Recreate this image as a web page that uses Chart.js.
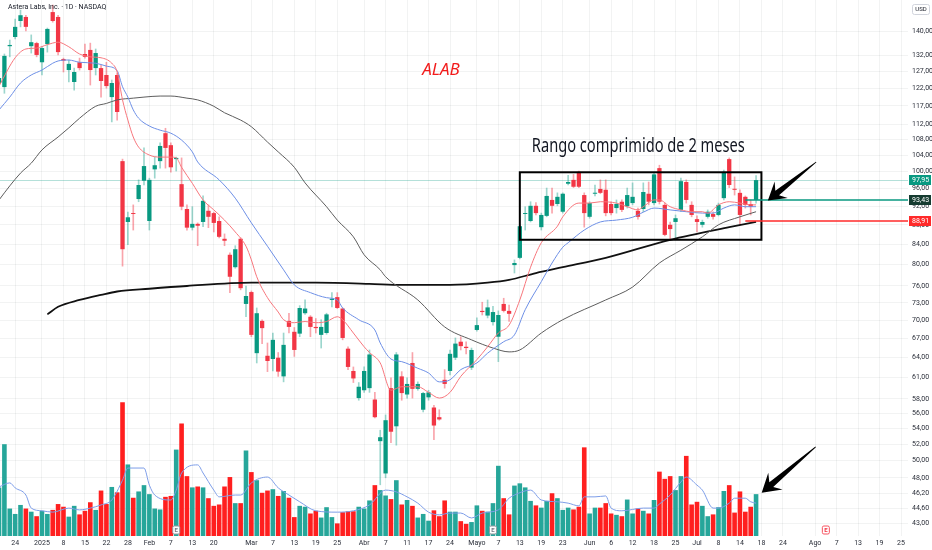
<!DOCTYPE html>
<html>
<head>
<meta charset="utf-8">
<script src="https://cdn.jsdelivr.net/npm/chart.js@4.4.1/dist/chart.umd.min.js"></script>
<style>
  html, body { margin: 0; padding: 0; background: #fff; }
  canvas { display: block; }
</style>
</head>
<body>
<canvas id="chart" width="932" height="550"></canvas>
<script>
// trading sessions shown on the axis (past + the empty days ahead)
const tradingDays = [
    ['2024-12', [19, 20, 23, 24, 26, 27, 30, 31]],
    ['2025-01', [2, 3, 6, 7, 8, 10, 13, 14, 15, 16, 17, 21, 22, 23, 24, 27, 28, 29, 30, 31]],
    ['2025-02', [3, 4, 5, 6, 7, 10, 11, 12, 13, 14, 18, 19, 20, 21, 24, 25, 26, 27, 28]],
    ['2025-03', [3, 4, 5, 6, 7, 10, 11, 12, 13, 14, 17, 18, 19, 20, 21, 24, 25, 26, 27, 28, 31]],
    ['2025-04', [1, 2, 3, 4, 7, 8, 9, 10, 11, 14, 15, 16, 17, 21, 22, 23, 24, 25, 28, 29, 30]],
    ['2025-05', [1, 2, 5, 6, 7, 8, 9, 12, 13, 14, 15, 16, 19, 20, 21, 22, 23, 27, 28, 29, 30]],
    ['2025-06', [2, 3, 4, 5, 6, 9, 10, 11, 12, 13, 16, 17, 18, 20, 23, 24, 25, 26, 27, 30]],
    ['2025-07', [1, 2, 3, 7, 8, 9, 10, 11, 14, 15, 16, 17, 18, 21, 22, 23, 24, 25, 28, 29, 30, 31]],
    ['2025-08', [1, 4, 5, 6, 7, 8, 11, 12, 13, 14, 15, 18, 19, 20, 21, 22, 25, 26, 27, 28, 29]]
]

const open = [
    123.6, 122.4, 135.0, 138.0, 143.4, 144.8, 135.0, 136.0,
    129.9, 135.7, 146.5, 144.8, 130.9, 127.5, 123.9, 129.9, 132.5, 133.8, 128.1, 128.1, 126.0, 119.5, 126.0, 102.5, 88.6, 90.5, 93.6, 97.8,
    88.8, 100.5, 102.5, 109.6, 106.5, 103.0, 97.0, 91.4, 87.4, 88.2, 88.6, 91.0, 90.5, 88.8, 85.1, 81.9, 79.5, 85.1, 72.8,
    74.9, 64.7, 69.9, 64.3, 63.8, 64.0, 61.2, 69.9, 68.1, 67.8, 71.2, 70.6, 68.9, 67.6, 67.9, 73.5, 74.0, 72.0, 65.4, 62.0, 58.1,
    59.2, 59.5, 57.9, 52.4, 48.5, 59.5, 54.3, 61.2, 58.6, 63.2, 59.4, 56.5, 58.2, 56.8, 55.5, 60.7, 62.0, 64.0, 66.5, 65.7, 62.5,
    68.4, 71.6, 70.8, 69.7, 67.3, 72.8, 71.6, 79.9, 81.3, 90.3, 88.8, 92.1, 87.5, 89.9, 93.4, 92.5, 90.8, 97.1, 98.0, 99.9, 94.5,
    89.7, 94.8, 95.9, 95.7, 92.5, 91.6, 93.0, 92.0, 92.7, 91.0, 91.4, 94.8, 92.7, 100.8, 92.3, 88.0, 88.6, 91.2, 97.5, 92.3,
    89.2, 88.0, 89.7, 90.3, 90.1, 93.8, 103.0, 95.9, 95.0, 94.1, 92.5, 93.4
]
const high = [
    126.0, 132.5, 137.0, 144.1, 147.2, 145.4, 138.7, 136.3,
    134.8, 141.0, 149.0, 145.4, 131.2, 130.6, 128.1, 131.2, 135.7, 136.0, 134.1, 129.0, 129.9, 124.5, 126.6, 103.0, 90.7, 92.3, 98.0, 105.8,
    98.4, 103.5, 107.1, 110.9, 107.1, 103.5, 103.3, 92.3, 91.9, 88.4, 94.3, 92.3, 90.7, 89.7, 86.1, 82.3, 83.7, 85.3, 76.0,
    75.1, 72.1, 70.1, 66.3, 67.9, 64.8, 67.9, 71.2, 68.8, 72.5, 73.5, 70.8, 70.3, 70.1, 71.2, 74.8, 74.8, 72.1, 65.7, 62.6, 60.3,
    62.6, 65.2, 58.9, 53.8, 55.8, 61.0, 64.8, 61.9, 61.0, 64.8, 60.4, 58.9, 59.2, 57.1, 56.5, 62.2, 65.2, 67.1, 67.3, 66.5, 65.5,
    70.4, 73.1, 73.5, 72.4, 71.6, 73.8, 72.6, 80.9, 88.0, 91.9, 93.0, 92.8, 90.5, 96.1, 96.1, 95.0, 95.0, 99.1, 99.3, 100.1, 95.0,
    93.0, 96.8, 98.0, 98.0, 93.0, 93.4, 93.4, 96.1, 97.3, 91.6, 97.3, 97.5, 99.6, 101.5, 92.7, 88.6, 90.1, 98.4, 98.0, 93.0,
    89.9, 89.0, 91.2, 90.8, 92.7, 100.3, 103.3, 98.7, 95.7, 94.3, 93.4, 99.0
]
const low = [
    122.7, 120.6, 131.6, 137.4, 141.4, 140.0, 132.8, 131.6,
    126.0, 133.1, 143.0, 132.2, 126.9, 123.9, 121.5, 127.5, 131.2, 123.0, 126.0, 119.5, 122.1, 112.6, 113.1, 79.7, 83.9, 86.9, 93.0, 96.8,
    86.9, 98.4, 100.8, 100.8, 99.8, 100.1, 91.2, 86.9, 86.9, 83.7, 87.6, 87.4, 86.5, 85.3, 83.7, 74.8, 79.3, 75.3, 70.6,
    67.3, 63.2, 66.2, 61.9, 62.0, 61.2, 60.4, 67.9, 64.2, 67.3, 71.0, 67.3, 67.9, 65.5, 67.7, 72.3, 72.0, 66.8, 62.2, 60.3, 57.8,
    58.9, 58.9, 55.4, 47.2, 48.0, 52.2, 51.9, 57.8, 58.1, 58.1, 59.2, 56.2, 57.8, 52.6, 55.1, 59.5, 61.4, 63.7, 65.2, 64.6, 62.2,
    68.2, 70.9, 70.4, 69.2, 63.4, 71.4, 69.8, 78.4, 81.1, 86.9, 88.6, 90.1, 86.9, 89.7, 90.5, 92.1, 90.5, 96.8, 96.2, 96.2, 87.5,
    89.4, 94.3, 94.8, 89.9, 90.1, 90.5, 90.8, 91.6, 92.3, 89.2, 90.8, 92.3, 92.3, 92.5, 85.7, 84.9, 84.9, 90.8, 92.7, 89.7,
    86.5, 87.5, 89.4, 89.2, 89.9, 93.4, 96.2, 94.5, 88.0, 91.6, 90.1, 92.7
]
const close = [
    125.1, 131.9, 135.4, 141.4, 145.4, 141.4, 136.3, 132.2,
    134.4, 140.7, 143.4, 133.1, 130.4, 129.4, 126.9, 128.1, 131.6, 127.5, 132.8, 124.2, 122.7, 123.6, 115.3, 83.0, 89.6, 90.3, 96.8, 101.3,
    98.0, 101.5, 106.3, 105.8, 101.0, 103.3, 91.9, 87.4, 88.2, 87.8, 93.2, 89.7, 88.4, 85.5, 84.7, 77.7, 83.0, 75.6, 74.2,
    67.6, 71.2, 68.7, 63.5, 66.8, 61.9, 66.0, 68.9, 65.2, 72.1, 72.0, 68.9, 68.7, 68.9, 71.0, 73.7, 72.1, 67.1, 62.6, 60.9, 59.7,
    62.0, 64.5, 55.5, 52.9, 55.1, 53.6, 64.5, 58.8, 60.1, 59.4, 60.1, 58.8, 58.9, 54.4, 55.2, 60.1, 64.6, 66.2, 65.8, 65.5, 65.2,
    69.2, 71.4, 72.2, 71.4, 70.9, 71.6, 71.1, 80.3, 87.7, 90.5, 92.1, 90.5, 90.1, 94.3, 92.1, 94.1, 94.8, 97.5, 96.4, 96.4, 90.5,
    92.7, 95.0, 95.0, 90.5, 90.5, 92.5, 91.2, 94.5, 94.1, 89.7, 95.2, 93.0, 99.3, 93.0, 85.9, 87.1, 89.4, 97.7, 93.4, 90.1,
    88.6, 88.6, 90.8, 89.7, 92.3, 99.9, 96.8, 95.7, 90.1, 92.3, 91.9, 97.95
]
// volume, millions of shares
const volume = [
    10.8, 20.4, 6.1, 4.9, 6.9, 6.1, 5.4, 4.4,
    5.6, 4.9, 5.8, 7.1, 6.5, 4.3, 6.7, 4.8, 5.6, 7.5, 5.8, 10.1, 7.1, 10.9, 9.7, 29.7, 15.9, 8.5, 9.9, 11.3,
    9.3, 6.1, 5.9, 8.7, 8.9, 19.2, 25.0, 13.3, 10.8, 11.0, 10.8, 8.4, 6.7, 7.0, 11.0, 13.1, 7.3, 7.3, 19.0,
    14.2, 12.4, 9.6, 10.1, 10.4, 8.9, 10.0, 8.5, 4.2, 6.7, 6.5, 5.0, 5.6, 4.1, 6.4, 4.2, 2.8, 5.3, 5.5, 5.5, 6.5,
    6.1, 7.9, 11.3, 10.2, 9.0, 8.2, 12.4, 7.0, 8.0, 6.7, 4.1, 4.9, 3.4, 5.7, 4.4, 7.9, 5.4, 5.4, 3.3, 2.7, 3.1,
    6.8, 5.6, 5.4, 7.3, 15.6, 8.4, 4.8, 11.2, 11.7, 10.8, 7.8, 6.8, 6.3, 7.8, 9.5, 8.4, 5.8, 6.3, 5.9, 6.5, 19.7,
    5.0, 6.3, 6.3, 7.3, 5.0, 4.7, 4.4, 8.1, 5.0, 6.1, 5.6, 5.0, 8.0, 14.3, 12.7, 13.3, 10.2, 13.3, 17.8, 7.0,
    7.6, 6.7, 4.4, 4.8, 6.4, 10.0, 11.3, 5.2, 9.9, 5.4, 6.5, 9.3
]

// moving averages: [session index, value]
const maFast = [[0, 122.7], [3, 131.3], [5, 134.1], [7, 134.4], [9, 135.5], [11, 136.3], [13, 134.8], [15, 132.5], [17, 131.6], [19, 131.3], [21, 129.6], [22, 126.9], [23, 118.7], [24, 113.1], [25, 108.6], [26, 106.0], [28, 104.0], [30, 103.5], [32, 103.5], [33, 103.3], [34, 101.0], [36, 97.2], [38, 93.4], [40, 91.2], [42, 89.0], [44, 86.5], [46, 83.6], [47, 80.9], [48, 77.7], [50, 73.9], [52, 71.4], [53, 70.1], [55, 69.6], [57, 69.8], [59, 69.6], [61, 69.8], [63, 70.6], [64, 70.1], [66, 67.9], [68, 65.7], [69, 64.8], [71, 63.2], [73, 59.2], [75, 59.7], [78, 59.7], [80, 58.9], [82, 58.1], [84, 58.9], [86, 61.2], [89, 63.7], [91, 65.7], [93, 67.9], [95, 69.2], [97, 73.5], [99, 79.5], [101, 84.3], [104, 87.7], [105, 89.7], [108, 92.7], [110, 92.7], [112, 93.0], [115, 92.7], [117, 91.9], [119, 91.2], [120, 91.9], [122, 93.4], [123, 93.4], [125, 91.9], [127, 91.2], [129, 90.8], [131, 90.8], [132, 90.5], [134, 92.3], [136, 93.0], [138, 92.7], [140, 92.3], [141, 92.3]]
const maMid = [[0, 115.9], [2, 119.5], [4, 123.6], [6, 126.0], [8, 127.5], [10, 129.6], [11, 130.3], [13, 130.6], [15, 129.9], [18, 129.6], [20, 128.7], [22, 127.3], [23, 122.5], [24, 119.5], [25, 115.9], [26, 113.6], [28, 111.5], [30, 110.4], [32, 109.6], [34, 107.8], [36, 104.8], [37, 102.3], [41, 98.0], [44, 93.8], [47, 88.4], [50, 83.6], [53, 79.0], [55, 76.2], [58, 74.8], [61, 73.9], [63, 73.5], [64, 72.1], [67, 70.1], [70, 68.4], [71, 66.3], [73, 63.8], [75, 63.4], [78, 62.4], [80, 61.7], [82, 60.4], [84, 60.7], [86, 62.2], [89, 63.2], [91, 64.7], [94, 66.5], [96, 67.6], [98, 71.8], [101, 76.8], [103, 80.3], [105, 83.4], [106, 84.3], [109, 86.9], [112, 88.6], [115, 89.0], [118, 89.6], [120, 90.7], [122, 91.6], [125, 91.2], [128, 90.8], [131, 90.5], [133, 90.5], [135, 91.6], [137, 92.3], [139, 91.9], [141, 91.9]]
const maSlow = [[0, 93.4], [2, 96.6], [4, 99.6], [6, 102.0], [8, 105.3], [11, 108.6], [13, 111.0], [15, 113.6], [18, 116.9], [20, 117.7], [22, 118.7], [25, 119.2], [27, 119.5], [30, 119.8], [32, 119.8], [35, 119.2], [37, 118.7], [40, 116.9], [42, 115.1], [45, 113.1], [47, 111.3], [50, 107.3], [52, 104.8], [55, 101.0], [57, 97.3], [61, 91.9], [63, 89.0], [66, 85.5], [68, 81.9], [71, 79.0], [72, 77.7], [78, 73.5], [83, 68.9], [88, 66.8], [92, 65.5], [95, 64.9], [97, 65.2], [101, 67.9], [105, 70.1], [113, 73.5], [118, 75.8], [123, 80.3], [127, 82.8], [131, 85.5], [134, 88.0], [138, 89.7], [141, 90.8]]
const maLong = [[9, 71.0], [11, 72.3], [15, 73.5], [19, 74.4], [22, 75.0], [28, 75.5], [35, 76.0], [47, 76.6], [59, 76.6], [69, 76.4], [75, 76.2], [84, 76.2], [91, 76.6], [95, 77.1], [100, 78.4], [105, 79.5], [113, 81.3], [125, 84.9], [136, 87.5], [141, 88.6]]
const volAvg = [[0, 10.9], [2, 11.8], [3, 10.7], [5, 9.1], [6, 6.2], [8, 5.6], [10, 5.3], [13, 6.2], [15, 5.8], [17, 6.2], [19, 6.9], [21, 8.0], [23, 12.4], [24, 15.1], [27, 15.1], [28, 11.3], [29, 9.1], [32, 8.0], [33, 10.2], [34, 14.0], [37, 15.8], [38, 14.0], [40, 10.2], [41, 8.7], [44, 9.1], [45, 9.1], [47, 11.8], [50, 13.1], [52, 10.7], [54, 9.1], [56, 7.6], [59, 5.6], [63, 5.3], [66, 5.6], [69, 6.9], [72, 10.2], [74, 9.8], [76, 8.7], [78, 7.3], [80, 5.3], [82, 4.7], [84, 5.1], [86, 5.1], [88, 4.0], [90, 5.1], [93, 5.8], [95, 8.4], [96, 9.1], [99, 10.2], [101, 8.0], [104, 7.6], [106, 7.3], [108, 6.7], [109, 8.7], [111, 8.7], [113, 8.9], [114, 6.2], [116, 5.6], [120, 6.2], [122, 6.2], [123, 7.1], [125, 9.1], [127, 12.0], [128, 13.1], [130, 11.3], [131, 10.2], [133, 6.2], [134, 6.2], [136, 7.3], [137, 8.4], [139, 8.4], [140, 7.6], [141, 7.3]]

const priceTicks = [140, 132, 127, 122, 117, 112, 108, 104, 100, 96, 92, 88, 84, 80, 76, 73, 70, 67, 64, 61, 58, 56, 54, 52, 50, 48, 46.2, 44.6, 43]
const tickDates = ['2024-12-24', '2025-01-02', '2025-01-08', '2025-01-15', '2025-01-22', '2025-01-28', '2025-02-03', '2025-02-07', '2025-02-13', '2025-02-20',
    '2025-03-03', '2025-03-07', '2025-03-13', '2025-03-19', '2025-03-25', '2025-04-01', '2025-04-07', '2025-04-11', '2025-04-17', '2025-04-24',
    '2025-05-01', '2025-05-07', '2025-05-13', '2025-05-19', '2025-05-23', '2025-06-02', '2025-06-06', '2025-06-12', '2025-06-18', '2025-06-25',
    '2025-07-01', '2025-07-08', '2025-07-14', '2025-07-18', '2025-07-24', '2025-08-01', '2025-08-07', '2025-08-13', '2025-08-19', '2025-08-25']
const tickText = ['24', '2025', '8', '15', '22', '28', 'Feb', '7', '13', '20',
    'Mar', '7', '13', '19', '25', 'Abr', '7', '11', '17', '24',
    'Mayo', '7', '13', '19', '23', 'Jun', '6', '12', '18', '25',
    'Jul', '8', '14', '18', '24', 'Ago', '7', '13', '19', '25']

// drawings on the chart
const levelGreen = 93.43
const levelRed = 88.91
const levelFrom = '2025-07-15'
const rangeBox = { from: '2025-05-13', to: '2025-07-18', top: 99.8, bottom: 84.9 }
const earnings = ['2025-02-10', '2025-05-06', '2025-08-05']

const dates = tradingDays.flatMap(([m, days]) => days.map(d => m + '-' + String(d).padStart(2, '0')))
const pos = d => dates.indexOf(d)

const UP = '#089981', DOWN = '#f23645'
const FONT = 'Roboto, "Noto Sans", sans-serif'
const n = close.length
const isUp = i => close[i] >= open[i]

let wicks = [], bodies = [], vols = []
for (let i = 0; i < n; i++) {
    wicks.push({ x: i, y: [low[i], high[i]] })
    bodies.push({ x: i, y: [open[i], close[i]] })
    vols.push({ x: i, y: volume[i] })
}
const pts = arr => arr.map(p => ({ x: p[0], y: p[1] }))
const fmt = v => v.toFixed(2).replace('.', ',')

let drawArrow = function (ctx, x1, y1, x2, y2, headLen, headW) {
    let len = Math.hypot(x2 - x1, y2 - y1)
    let ux = (x2 - x1) / len, uy = (y2 - y1) / len
    let nx = -uy, ny = ux
    let bx = x2 - ux * headLen, by = y2 - uy * headLen
    let jx = x2 - ux * headLen * 0.7, jy = y2 - uy * headLen * 0.7
    ctx.beginPath()
    ctx.moveTo(x2, y2)
    ctx.lineTo(bx + nx * headW, by + ny * headW)
    ctx.lineTo(jx + nx * 3, jy + ny * 3)
    ctx.lineTo(x1 + nx * 0.4, y1 + ny * 0.4)
    ctx.lineTo(x1 - nx * 0.4, y1 - ny * 0.4)
    ctx.lineTo(jx - nx * 3, jy - ny * 3)
    ctx.lineTo(bx - nx * headW, by - ny * headW)
    ctx.closePath()
    ctx.fill()
}

let priceTag = function (ctx, x, y, text, bg) {
    ctx.fillStyle = bg
    ctx.fillRect(x, Math.round(y) - 5, 932 - x - 1, 10)
    ctx.fillStyle = '#fff'
    ctx.font = '7px ' + FONT
    ctx.textAlign = 'left'
    ctx.textBaseline = 'middle'
    ctx.fillText(text, x + 3, Math.round(y) + 0.5)
}

const overlay = {
    id: 'overlay',
    beforeDatasetsDraw(chart) {
        const { ctx, chartArea: a, scales } = chart
        const py = Math.round(scales.y.getPixelForValue(close[n - 1])) + 0.5
        ctx.save()
        ctx.strokeStyle = 'rgba(8,153,129,0.3)'
        ctx.lineWidth = 1
        ctx.beginPath()
        ctx.moveTo(a.left, py)
        ctx.lineTo(a.right, py)
        ctx.stroke()
        ctx.restore()
    },
    afterDatasetsDraw(chart) {
        const { ctx, chartArea: a, scales } = chart
        const x = scales.x, y = scales.y, yv = scales.yVol
        ctx.save()

        // consolidation box
        let bx1 = x.getPixelForValue(pos(rangeBox.from)), bx2 = x.getPixelForValue(pos(rangeBox.to))
        let by1 = y.getPixelForValue(rangeBox.top), by2 = y.getPixelForValue(rangeBox.bottom)
        ctx.strokeStyle = '#000'
        ctx.lineWidth = 2
        ctx.strokeRect(bx1, by1, bx2 - bx1, by2 - by1)

        // horizontal levels
        let lx = x.getPixelForValue(pos(levelFrom))
        ctx.lineWidth = 1.5
        ctx.strokeStyle = UP
        let gy = Math.round(y.getPixelForValue(levelGreen))
        ctx.beginPath(); ctx.moveTo(lx, gy); ctx.lineTo(a.right, gy); ctx.stroke()
        ctx.strokeStyle = '#ff2a2a'
        let ry = Math.round(y.getPixelForValue(levelRed))
        ctx.beginPath(); ctx.moveTo(lx, ry); ctx.lineTo(a.right, ry); ctx.stroke()

        // arrows
        ctx.fillStyle = '#000'
        drawArrow(ctx, x.getPixelForValue(152.2), y.getPixelForValue(102.3),
            x.getPixelForValue(143.2), y.getPixelForValue(93.3), 17, 10.5)
        drawArrow(ctx, x.getPixelForValue(152.1), yv.getPixelForValue(19.8),
            x.getPixelForValue(142.05), yv.getPixelForValue(9.6), 18, 11)

        // texts
        ctx.fillStyle = '#131722'
        ctx.font = '19px "Noto Sans", sans-serif'
        ctx.textBaseline = 'alphabetic'
        let t = 'Rango comprimido de 2 meses'
        let w = ctx.measureText(t).width
        ctx.save()
        ctx.translate(bx1 + 12, by1 - 20)
        ctx.scale(213 / w, 1)
        ctx.fillText(t, 0, 0)
        ctx.restore()

        ctx.fillStyle = '#f21c1c'
        ctx.font = 'italic 17px "Noto Sans", sans-serif'
        ctx.textAlign = 'center'
        ctx.fillText('ALAB', 441, 75)

        // earnings badges
        ctx.font = 'bold 6px ' + FONT
        ctx.textBaseline = 'middle'
        earnings.forEach(d => {
            let ex = x.getPixelForValue(pos(d))
            let future = pos(d) >= n
            ctx.fillStyle = '#fff'
            ctx.strokeStyle = future ? '#f7525f' : '#9598a1'
            ctx.lineWidth = 1
            ctx.beginPath()
            ctx.roundRect(ex - 3.5, a.bottom - 10, 7, 8, 1.5)
            ctx.fill(); ctx.stroke()
            ctx.fillStyle = future ? '#f23645' : '#787b86'
            ctx.fillText('E', ex, a.bottom - 6)
        })
        ctx.restore()
    },
    afterDraw(chart) {
        const { ctx, chartArea: a, scales } = chart
        const y = scales.y
        ctx.save()
        priceTag(ctx, a.right + 1, y.getPixelForValue(close[n - 1]), fmt(close[n - 1]), UP)
        priceTag(ctx, a.right + 1, y.getPixelForValue(levelGreen), fmt(levelGreen), '#163c31')
        priceTag(ctx, a.right + 1, y.getPixelForValue(levelRed), fmt(levelRed), '#ff2a2a')

        // currency box
        ctx.strokeStyle = '#d1d4dc'
        ctx.fillStyle = '#fff'
        ctx.lineWidth = 1
        ctx.beginPath()
        ctx.roundRect(912.5, 4.5, 17, 10, 2)
        ctx.fill(); ctx.stroke()
        ctx.fillStyle = '#131722'
        ctx.font = '6px ' + FONT
        ctx.textAlign = 'center'
        ctx.textBaseline = 'middle'
        ctx.fillText('USD', 921, 9.8)

        // symbol title
        ctx.textAlign = 'left'
        ctx.font = '7px ' + FONT
        ctx.fillText('Astera Labs, Inc. \u00b7 1D \u00b7 NASDAQ', 8, 7.5)
        ctx.restore()
    }
}

const lineStyle = { pointRadius: 0, pointHoverRadius: 0, pointHitRadius: 0, cubicInterpolationMode: 'monotone' }

const cnx = document.getElementById('chart')
const chart = new Chart(cnx, {
    type: 'bar',
    data: {
        datasets: [
            { type: 'line', data: pts(maFast), yAxisID: 'y', borderColor: '#f7767c', borderWidth: 1, order: 0, ...lineStyle },
            { type: 'line', data: pts(maMid), yAxisID: 'y', borderColor: '#6d8fe6', borderWidth: 1, order: 0, ...lineStyle },
            { type: 'line', data: pts(maSlow), yAxisID: 'y', borderColor: '#5d5d5d', borderWidth: 1, order: 0, ...lineStyle },
            { type: 'line', data: pts(maLong), yAxisID: 'y', borderColor: '#111', borderWidth: 1.8, order: 0, ...lineStyle },
            {
                data: bodies, yAxisID: 'y', grouped: false, order: 1,
                backgroundColor: bodies.map((b, i) => isUp(i) ? UP : DOWN),
                barPercentage: 0.8, categoryPercentage: 1, minBarLength: 1
            },
            {
                data: wicks, yAxisID: 'y', grouped: false, order: 2,
                backgroundColor: wicks.map((b, i) => isUp(i) ? 'rgba(8,153,129,0.4)' : 'rgba(242,54,69,0.45)'),
                barThickness: 1
            },
            { type: 'line', data: pts(volAvg), yAxisID: 'yVol', borderColor: '#7d9de8', borderWidth: 1, order: 3, ...lineStyle },
            {
                data: vols, yAxisID: 'yVol', grouped: false, order: 4,
                backgroundColor: vols.map((v, i) => isUp(i) ? '#26a69a' : '#ff1f1f'),
                barPercentage: 0.86, categoryPercentage: 1
            }
        ]
    },
    options: {
        responsive: false,
        animation: false,
        layout: { padding: 0, autoPadding: false },
        plugins: { legend: { display: false }, tooltip: { enabled: false } },
        scales: {
            x: {
                type: 'linear',
                offset: false,
                min: 0.18,
                max: 169.3,
                grid: { color: 'rgba(42,46,57,0.06)', drawTicks: false, offset: false },
                border: { display: false },
                ticks: {
                    autoSkip: false, maxRotation: 0, padding: 3,
                    color: '#2a2e39', font: { size: 7, family: FONT },
                    callback: function (v) {
                        let k = tickDates.findIndex(d => pos(d) === v)
                        return k >= 0 ? tickText[k] : ''
                    }
                },
                afterBuildTicks: function (scale) {
                    scale.ticks = tickDates.map(d => ({ value: pos(d) }))
                },
                afterFit: function (scale) {
                    scale.height = 14
                    scale.paddingLeft = 0
                    scale.paddingRight = 0
                }
            },
            y: {
                type: 'logarithmic',
                position: 'right',
                min: 41.75,
                max: 150.8,
                grid: { color: 'rgba(42,46,57,0.06)', drawTicks: false },
                border: { display: false },
                ticks: {
                    autoSkip: false, padding: 4,
                    color: '#2a2e39', font: { size: 7, family: FONT },
                    callback: v => fmt(v)
                },
                afterBuildTicks: function (scale) {
                    scale.ticks = priceTicks.map(v => ({ value: v }))
                },
                afterFit: function (scale) {
                    scale.width = 24
                    scale.paddingTop = 0
                    scale.paddingBottom = 0
                }
            },
            yVol: {
                type: 'linear',
                display: false,
                min: 0,
                max: 119.1
            }
        }
    },
    plugins: [overlay]
})
</script>
</body>
</html>
